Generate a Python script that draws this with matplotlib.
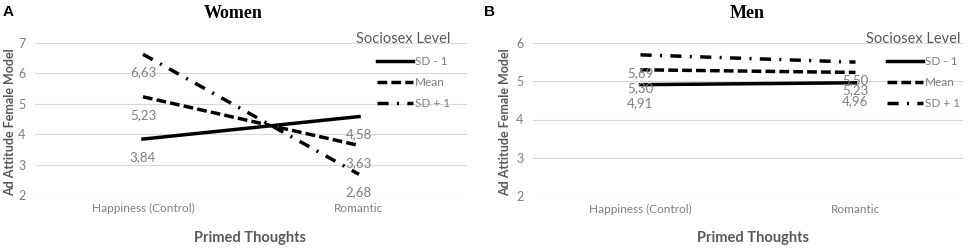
import matplotlib.pyplot as plt
from matplotlib.lines import Line2D

# datos
conditions = ["Happiness (Control)", "Romantic"]
levels = ["SD - 1", "Mean", "SD + 1"]
women = {"SD - 1": [3.84, 4.58], "Mean": [5.23, 3.63], "SD + 1": [6.63, 2.68]}
men = {"SD - 1": [4.91, 4.96], "Mean": [5.30, 5.23], "SD + 1": [5.69, 5.50]}
women_ticks = [2, 3, 4, 5, 6, 7]
men_ticks = [2, 3, 4, 5, 6]

LW = 2.5
styles = {
    "SD - 1": dict(linestyle="-"),
    "Mean": dict(linestyle=(0, (2.8, 1.2))),
    "SD + 1": dict(linestyle=(0, (3.2, 2.4, 0.6, 2.4))),
}

plt.rcParams["font.family"] = ["Lato", "DejaVu Sans"]
GRAY = "#7f7f7f"
DARK = "#595959"

fig = plt.figure(figsize=(9.7, 2.5), dpi=100)


def px(x0, x1, ytop, ybot):
    return [x0 / 970, (250 - ybot) / 250, (x1 - x0) / 970, (ybot - ytop) / 250]


def panel(rect, data, yticks, title, letter, letter_x, title_x, ylab_x, xlab_x, leg_anchor):
    ax = fig.add_axes(rect)
    for lev in levels:
        ys = data[lev]
        ax.plot([0, 1], ys, color="black", lw=LW, clip_on=False, **styles[lev], label=lev)
        for i, v in enumerate(ys):
            ax.annotate(("%.2f" % v).replace(".", ","), (i, v), xytext=(0, -13),
                        textcoords="offset points", ha="center", va="center",
                        fontsize=9.5, color=GRAY)
    ax.set_xlim(-0.5, 1.5)
    ax.set_ylim(yticks[0], yticks[-1])
    ax.set_yticks(yticks)
    ax.set_xticks([0, 1])
    ax.set_xticklabels(conditions)
    ax.tick_params(length=0, labelsize=9, labelcolor=GRAY, pad=6)
    ax.tick_params(axis="x", labelsize=8.5)
    ax.tick_params(axis="y", pad=7)
    ax.grid(axis="y", color="#d9d9d9", lw=0.8)
    ax.set_axisbelow(True)
    for s in ax.spines.values():
        s.set_visible(False)
    fig.text(title_x / 970, 1 - 13 / 250, title, ha="center", va="center",
             fontsize=13, fontweight="bold", family="Liberation Serif")
    fig.text(letter_x / 970, 1 - 12 / 250, letter, ha="left", va="center",
             fontsize=11, fontweight="bold", family="Liberation Sans")
    fig.text(ylab_x / 970, (250 - 122) / 250, "Ad Attitude Female Model", rotation=90,
             ha="center", va="center", fontsize=9, fontweight="bold", color=DARK)
    fig.text(xlab_x / 970, 1 - 238 / 250, "Primed Thoughts", ha="center", va="center",
             fontsize=10.5, fontweight="bold", color=DARK)
    handles = [Line2D([], [], color="black", lw=LW, **styles[l]) for l in levels]
    leg = fig.legend(handles, levels, loc="upper right", bbox_to_anchor=leg_anchor,
                     frameon=False, title="Sociosex Level", title_fontsize=10.5,
                     fontsize=8.5, handlelength=3.0, handletextpad=0.2,
                     labelspacing=0.85, alignment="right", borderaxespad=0)
    leg.get_title().set_color(DARK)
    for t in leg.get_texts():
        t.set_color(GRAY)
    return ax


panel(px(35, 467, 43, 195), women, women_ticks, "Women", "A", 3, 233, 10, 250,
      (455 / 970, 1 - 27 / 250))
panel(px(533, 963, 43, 196), men, men_ticks, "Men", "B", 484, 747, 505, 753,
      (965 / 970, 1 - 27 / 250))

fig.savefig("out.png", dpi=100)
